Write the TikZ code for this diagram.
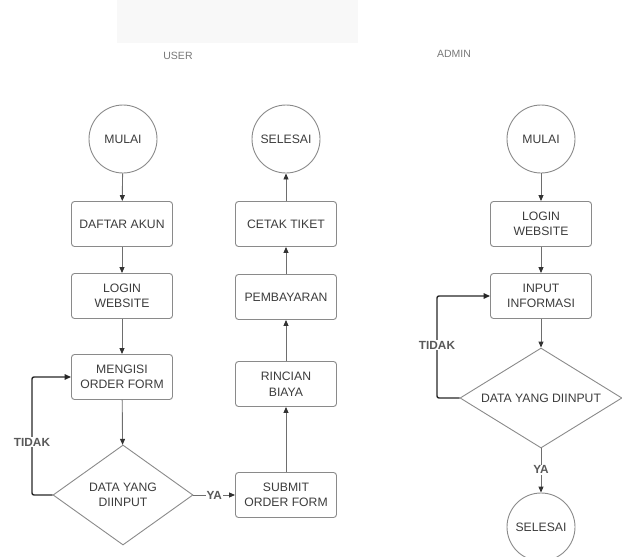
\documentclass[tikz,border=0pt]{standalone}
\usepackage{fontspec}
\setmainfont{Liberation Sans}
\usetikzlibrary{shapes.geometric,arrows.meta}
\definecolor{txt}{HTML}{3C3C3C}
\definecolor{edge}{HTML}{8A8A8A}
\definecolor{lbl}{HTML}{777777}
\definecolor{panel}{HTML}{F8F8F8}
\tikzset{
  stepbox/.style={draw=edge, line width=0.9pt, rounded corners=3pt, minimum width=101pt, minimum height=45pt, align=center, text=txt, font=\fontsize{12.2}{15.5}\selectfont, inner sep=1pt},
  term/.style={draw=edge, line width=0.9pt, circle, minimum size=68pt, inner sep=0pt, text=txt, font=\fontsize{12.2}{15.5}\selectfont},
  decide/.style={draw=edge, line width=0.9pt, diamond, inner sep=0pt, align=center, text=txt, font=\fontsize{12.2}{15.5}\selectfont},
  flow/.style={draw=edge!80!black, line width=0.9pt, -{Triangle[length=6pt,width=5pt,color=black!80]}},
  loopline/.style={draw=black!85, line width=1.4pt, rounded corners=2pt, -{Triangle[length=6.5pt,width=5.5pt]}},
  lane/.style={text=lbl, font=\fontsize{10.5}{12}\selectfont},
  cond/.style={text=black!65, font=\bfseries\fontsize{11.8}{13}\selectfont, fill=white, inner sep=1pt},
}
\begin{document}
\begin{tikzpicture}[x=1pt,y=-1pt]
\useasboundingbox (0,0) rectangle (622,557);
\clip (0,0) rectangle (622,557);
\fill[panel] (117,0) rectangle (358,43);
\node[lane] (user) at (178,56) {USER};
\node[lane] (admin) at (454,54) {ADMIN};
% USER column 1
\node[term] (u1) at (123,139) {MULAI};
\node[stepbox] (u2) at (122,224) {DAFTAR AKUN};
\node[stepbox] (u3) at (122,296) {LOGIN\\WEBSITE};
\node[stepbox] (u4) at (122,377) {MENGISI\\ORDER FORM};
\node[decide, aspect=1.4, minimum width=140pt, minimum height=100pt] (u5) at (123,495) {DATA YANG\\DIINPUT};
% USER column 2
\node[stepbox] (v1) at (286,495) {SUBMIT\\ORDER FORM};
\node[stepbox] (v2) at (286,384) {RINCIAN\\BIAYA};
\node[stepbox] (v3) at (286,297) {PEMBAYARAN};
\node[stepbox] (v4) at (286,224) {CETAK TIKET};
\node[term] (v5) at (286,139) {SELESAI};
% ADMIN
\node[term] (a1) at (541,139) {MULAI};
\node[stepbox] (a2) at (541,224) {LOGIN\\WEBSITE};
\node[stepbox] (a3) at (541,296) {INPUT\\INFORMASI};
\node[decide, aspect=1.62, minimum width=162pt, minimum height=100pt] (a4) at (541,398) {DATA YANG DIINPUT};
\node[term] (a5) at (541,527) {SELESAI};
\coordinate (ut) at (32,442);
\coordinate (at) at (437,345);
% connectors
\draw[flow] (u1) -- (u2);
\draw[flow] (u2) -- (u3);
\draw[flow] (u3) -- (u4);
\draw[flow] (u4) -- (u5);
\draw[flow] (u5) -- node[cond] (uya) {YA} (v1);
\draw[flow] (v1) -- (v2);
\draw[flow] (v2) -- (v3);
\draw[flow] (v3) -- (v4);
\draw[flow] (v4) -- (v5);
\draw[loopline] (u5.west) -| (ut) |- (u4.west);
\node[cond] (utidak) at (ut) {TIDAK};
\draw[flow] (a1) -- (a2);
\draw[flow] (a2) -- (a3);
\draw[flow] (a3) -- (a4);
\draw[flow] (a4) -- node[cond, pos=0.48] (aya) {YA} (a5);
\draw[loopline] (a4.west) -| (at) |- (a3.west);
\node[cond] (atidak) at (at) {TIDAK};
\end{tikzpicture}
\end{document}
